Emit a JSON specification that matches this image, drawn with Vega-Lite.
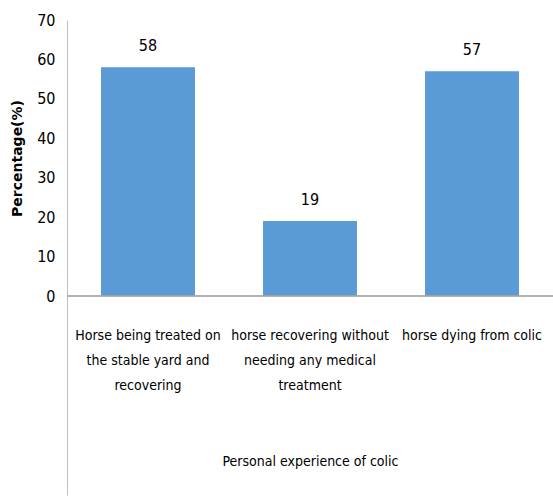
{
  "$schema": "https://vega.github.io/schema/vega-lite/v6.json",
  "width": 486,
  "height": 475,
  "autosize": {"type": "none"},
  "padding": {"left": 67, "top": 20, "right": 0, "bottom": 2},
  "background": "white",
  "config": {"view": {"stroke": null}, "font": "DejaVu Sans Condensed"},
  "data": {"values": [
    {"experience": "Horse being treated on the stable yard and recovering", "percentage": 58},
    {"experience": "horse recovering without needing any medical treatment", "percentage": 19},
    {"experience": "horse dying from colic", "percentage": 57}
  ]},
  "layer": [
    {
      "mark": {"type": "bar", "color": "#5B9BD5"},
      "encoding": {
        "x": {
          "field": "experience", "type": "nominal", "sort": null,
          "scale": {"paddingInner": 0.42, "paddingOuter": 0.21},
          "axis": {
            "title": "Personal experience of colic",
            "titleFont": "DejaVu Sans Condensed", "titleFontSize": 14, "titleFontWeight": "normal", "titleColor": "#000",
            "titlePadding": 62,
            "offset": -199,
            "domain": false, "ticks": false, "labelAngle": 0,
            "labelFont": "DejaVu Sans Condensed",
            "labelFontSize": 14, "labelColor": "#000", "labelPadding": 39, "labelLineHeight": 25,
            "labelBaseline": "middle",
            "labelExpr": "datum.value == 'Horse being treated on the stable yard and recovering' ? ['Horse being treated on', 'the stable yard and', 'recovering'] : datum.value == 'horse recovering without needing any medical treatment' ? ['horse recovering without', 'needing any medical', 'treatment'] : datum.value"
          }
        },
        "y": {
          "field": "percentage", "type": "quantitative",
          "scale": {"domain": [-50.47, 70], "nice": false, "zero": false},
          "axis": {
            "title": "Percentage(%)", "titleFont": "DejaVu Sans", "titleFontSize": 14, "titleFontWeight": "bold", "titleColor": "#000",
            "titlePadding": 12,
            "titleY": 138,
            "values": [0, 10, 20, 30, 40, 50, 60, 70],
            "grid": false, "ticks": false, "domainColor": "#BFBFBF", "domainWidth": 1,
            "labelFont": "DejaVu Sans Condensed",
            "labelFontSize": 16, "labelColor": "#000", "labelPadding": 12
          }
        },
        "y2": {"datum": 0}
      }
    },
    {
      "mark": {"type": "text", "baseline": "bottom", "dy": -13, "fontSize": 16, "color": "#000"},
      "encoding": {
        "x": {"field": "experience", "type": "nominal", "sort": null},
        "y": {"field": "percentage", "type": "quantitative"},
        "text": {"field": "percentage", "type": "quantitative"}
      }
    },
    {
      "mark": {"type": "rule", "color": "#A6A6A6", "strokeWidth": 1.2},
      "encoding": {"y": {"datum": 0}}
    }
  ]
}
